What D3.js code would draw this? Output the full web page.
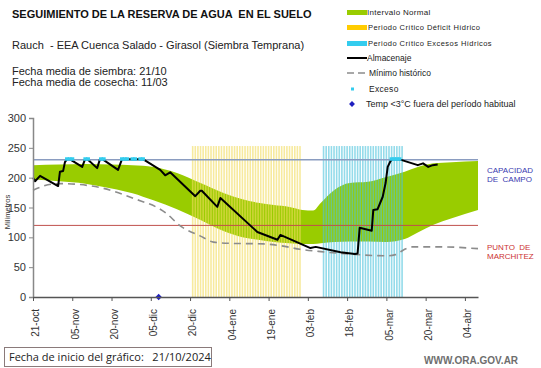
<!DOCTYPE html>
<html><head><meta charset="utf-8">
<script src="https://cdn.jsdelivr.net/npm/d3@7"></script>
<style>body{margin:0;background:#fff}svg{display:block;font-family:"Liberation Sans",Arial,sans-serif}</style>
</head><body><svg id="c" width="541" height="368"></svg>
<script>
// ---- data (day offset from 21/10/2024) ----
const xTickDays = [0,15,30,45,60,75,90,105,120,135,150,165];
const xTickLabels = ["21-oct","05-nov","20-nov","05-dic","20-dic","04-ene","19-ene","03-feb","18-feb","05-mar","20-mar","04-abr"];
const yTicks = [0,50,100,150,200,250,300];

const bandDays = [0,10,20,30,38,46,55,64,73,80,86,92,98,103,107,110,115,121,128,135,142,147,153,160,170];
const bandHigh = [221,222,223,222,221,218,208,191,174,164,158,154,151,146,145,158,179,191,193,201,210,218,224,226,228];
const bandLow  = [197,194,190,182,174,162,147,129,110,100,96,92,90,89,89,90,92,93,93,92,97,108,121,132,146];

const minDays = [0,7,11,26,38,51,56,64,69,75,88,94.5,102,110,121,135,138.5,142,145,156,170];
const minVals = [179,189,190,183,166,140,120,102,92,90,89,86,80,76,72,69,71,80,84,84,81];

const storDays = [0,0.8,2.7,9.6,10.3,11.5,12.2,13,14,18.8,19.9,20.8,24.5,25.6,26.5,32.5,34,42,48.6,50.5,52.4,62,63.9,64.5,70.4,71.6,85.7,93.4,94.5,106,108,117.5,123,124,124.8,129.4,130,131.6,133.6,134.7,135.5,136.6,137.4,139.7,147,149,151,152.7,154.6];
const storVals = [200,194,203,186,210,211,226,231,231,218,231,231,216,231,231,213,231,231,213,204,209,169,178,178,151,166,109,96,104,82,84,75,72,73,116,111,146,147,168,191,218,228,231,231,221,224,218,221,222];

const excesoDays = [13,14,15,20,21,26,27,34,35,36,38,39,41,42,137,138,139,140];
const frostDays = [48];
const deficitDays = d3.range(61,103);   // critical period (deficit)
const excessPeriodDays = d3.range(111,142); // critical period (excess)
const barTop = 253;
const fieldCapacity = 230;
const wiltingPoint = 120;

// ---- scales ----
const svg = d3.select("#c");
const x = d3.scaleLinear().domain([0,170]).range([33,478]);
const y = d3.scaleLinear().domain([0,300]).range([297,118]);

// band
const band = bandDays.map((d,i)=>({d,lo:bandLow[i],hi:bandHigh[i]}));
svg.append("path").datum(band)
  .attr("fill","#99cc00")
  .attr("d", d3.area().x(p=>x(p.d)).y0(p=>y(p.lo)).y1(p=>y(p.hi)).curve(d3.curveMonotoneX));

// critical period bars
const bw = 1.6;
svg.append("g").selectAll("rect").data(deficitDays).join("rect")
  .attr("x", d=>x(d)-bw/2).attr("width", bw)
  .attr("y", y(barTop)).attr("height", y(0)-y(barTop))
  .attr("fill","#f2dc5d").attr("opacity",0.6);
svg.append("g").selectAll("rect").data(excessPeriodDays).join("rect")
  .attr("x", d=>x(d)-bw/2).attr("width", bw)
  .attr("y", y(barTop)).attr("height", y(0)-y(barTop))
  .attr("fill","#4cc3dc").attr("opacity",0.6);

// reference lines
svg.append("line").attr("x1",x(0)).attr("x2",x(170)).attr("y1",y(fieldCapacity)).attr("y2",y(fieldCapacity))
  .attr("stroke","#8a9cc0").attr("stroke-width",1.5);
svg.append("line").attr("x1",x(0)).attr("x2",x(170)).attr("y1",y(wiltingPoint)).attr("y2",y(wiltingPoint))
  .attr("stroke","#c0504d").attr("stroke-width",1);

// minimum historical dashed
svg.append("path").datum(minDays.map((d,i)=>[d,minVals[i]]))
  .attr("fill","none").attr("stroke","#8c8c8c").attr("stroke-width",1.6).attr("stroke-dasharray","7,5")
  .attr("d", d3.line().x(p=>x(p[0])).y(p=>y(p[1])).curve(d3.curveMonotoneX));

// storage
svg.append("path").datum(storDays.map((d,i)=>[d,storVals[i]]))
  .attr("fill","none").attr("stroke","#000").attr("stroke-width",2).attr("stroke-linejoin","round")
  .attr("d", d3.line().x(p=>x(p[0])).y(p=>y(p[1])));

// exceso dots
svg.append("g").selectAll("rect").data(excesoDays).join("rect")
  .attr("x", d=>x(d)-2).attr("y", y(fieldCapacity)-2.5).attr("width",4).attr("height",3.5)
  .attr("fill","#33ccee");

// frost diamond
svg.append("g").selectAll("path").data(frostDays).join("path")
  .attr("transform", d=>`translate(${x(d)},${y(0)})`)
  .attr("d", d3.symbol(d3.symbolDiamond2, 26)).attr("fill","#1f1fbf");

// axes
const yAxis = svg.append("g").attr("transform",`translate(${x(0)},0)`)
  .call(d3.axisLeft(y).tickValues(yTicks).tickSize(4).tickPadding(3));
yAxis.select(".domain").attr("stroke","#888").attr("stroke-width",1.5);
yAxis.selectAll(".tick line").attr("stroke","#888");
yAxis.selectAll("text").attr("font-size",11).attr("fill","#333").attr("font-family","Liberation Sans, Arial");

const xAxis = svg.append("g").attr("transform",`translate(0,${y(0)})`)
  .call(d3.axisBottom(x).tickValues(xTickDays).tickFormat((d,i)=>xTickLabels[i]).tickSize(4).tickSizeOuter(0));
xAxis.select(".domain").attr("stroke","#555").attr("stroke-width",1.5);
xAxis.selectAll(".tick line").attr("stroke","#555");
xAxis.selectAll("text").attr("font-size",10).attr("fill","#333").attr("font-family","Liberation Sans, Arial")
  .attr("transform","rotate(-90)").attr("text-anchor","end").attr("dx","-0.5em").attr("dy","-0.3em").attr("x",-2).attr("y",3)
  .style("dominant-baseline","middle");
xAxis.selectAll("text").attr("dy","0.32em").attr("y",0).attr("x",-7);

svg.append("text").attr("transform","translate(10,212) rotate(-90)").attr("text-anchor","middle")
  .attr("font-size",7.5).attr("fill","#333").text("Milímetros");

// titles
svg.append("text").attr("x",12).attr("y",18).attr("font-size",11).attr("font-weight","bold").attr("fill","#111")
  .text("SEGUIMIENTO DE LA RESERVA DE AGUA  EN EL SUELO").style("white-space","pre");
svg.append("text").attr("x",12).attr("y",49).attr("font-size",11).attr("fill","#222")
  .text("Rauch  - EEA Cuenca Salado - Girasol (Siembra Temprana)").style("white-space","pre");
svg.append("text").attr("x",12).attr("y",75).attr("font-size",11).attr("fill","#222").text("Fecha media de siembra: 21/10");
svg.append("text").attr("x",12).attr("y",86).attr("font-size",11).attr("fill","#222").text("Fecha media de cosecha: 11/03");

// right labels
const cap = svg.append("text").attr("font-size",8).attr("fill","#3a3ab0");
cap.append("tspan").attr("x",487).attr("y",173).text("CAPACIDAD");
cap.append("tspan").attr("x",487).attr("y",182).text("DE  CAMPO").style("white-space","pre");
const pm = svg.append("text").attr("font-size",8).attr("fill","#cc3333");
pm.append("tspan").attr("x",487).attr("y",250).text("PUNTO  DE").style("white-space","pre");
pm.append("tspan").attr("x",487).attr("y",259).text("MARCHITEZ");

// legend
const lg = svg.append("g");
lg.append("rect").attr("x",347).attr("y",10).attr("width",20).attr("height",5).attr("fill","#99cc00");
lg.append("rect").attr("x",347).attr("y",25).attr("width",20).attr("height",5).attr("fill","#ffcc00");
lg.append("rect").attr("x",347).attr("y",41).attr("width",20).attr("height",5).attr("fill","#33ccee");
lg.append("line").attr("x1",347).attr("x2",367).attr("y1",58).attr("y2",58).attr("stroke","#000").attr("stroke-width",2);
lg.append("line").attr("x1",347).attr("x2",367).attr("y1",73).attr("y2",73).attr("stroke","#8c8c8c").attr("stroke-width",1.6).attr("stroke-dasharray","7,4");
lg.append("rect").attr("x",351).attr("y",87.5).attr("width",3).attr("height",3).attr("fill","#33ccee");
lg.append("path").attr("transform","translate(352,104)").attr("d",d3.symbol(d3.symbolDiamond2,22)).attr("fill","#1f1fbf");
const legTexts = [
  ["Intervalo Normal",367,15,8,0.3],
  ["Periodo Crítico Déficit Hídrico",368,30,7.5,0.45],
  ["Periodo Crítico Excesos Hídricos",368,46,7.5,0.45],
  ["Almacenaje",367,61,8.5,0],
  ["Mínimo histórico",369,76,8.5,0],
  ["Exceso",369,92,8.5,0.3],
  ["Temp <3°C fuera del período habitual",366,107,9,0]
];
legTexts.forEach(t=>{
  lg.append("text").attr("x",t[1]).attr("y",t[2]).attr("font-size",t[3]).attr("letter-spacing",t[4]).attr("fill","#222").text(t[0]);
});

// footer
svg.append("rect").attr("x",4.5).attr("y",347.5).attr("width",207).attr("height",19).attr("fill","#fff").attr("stroke","#8a7a7a");
svg.append("text").attr("x",9).attr("y",361).attr("font-size",11).attr("fill","#222").attr("font-family","Open Sans, Liberation Sans")
  .text("Fecha de inicio del gráfico:   21/10/2024").style("white-space","pre");
svg.append("text").attr("x",424).attr("y",364).attr("font-size",10).attr("font-weight","bold").attr("fill","#6e6e6e")
  .text("WWW.ORA.GOV.AR");
</script></body></html>
